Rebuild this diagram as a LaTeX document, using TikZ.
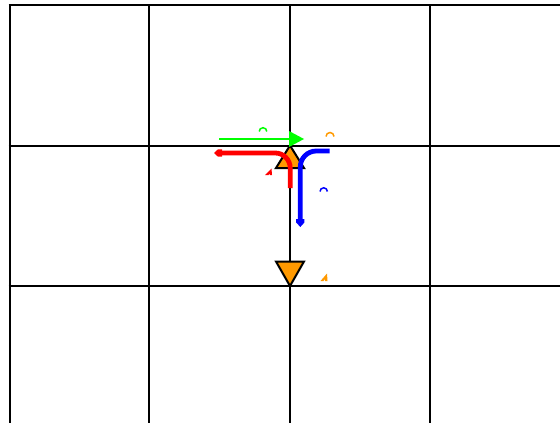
\documentclass[tikz,border=0pt]{standalone}
\definecolor{myorange}{RGB}{255,153,0}
\tikzset{
  gridline/.style={black,line width=2pt,line cap=butt},
  tri/.style={fill=myorange,draw=black,line width=2pt,line join=miter},
  redpath/.style={red,line width=4.8pt},
  bluepath/.style={blue,line width=4.8pt},
  arcmark/.style={line width=1.5pt}
}
\begin{document}
\begin{tikzpicture}[x=1pt,y=-1pt]
\useasboundingbox (0,0) rectangle (560,423);
% grid
\foreach \x in {9.5,149.3,290,430} \draw[gridline] (\x,4) -- (\x,423);
\foreach \y in {5,145.7,286} \draw[gridline] (8.5,\y) -- (560,\y);
% triangles
\draw[tri] (290,145.5) -- (304,168) -- (276,168) -- cycle;
\draw[tri] (276,261.5) -- (304,261.5) -- (290,286) -- cycle;
% red
\draw[redpath] (290.2,188) -- (290.2,168) arc[start angle=0,end angle=-90,radius=15] -- (220,153);
\fill[red] (214,153) -- (218,149.3) -- (222,149.3) -- (222,156.7) -- (218,156.7) -- cycle;
% blue
\draw[bluepath] (329.5,151) -- (316.3,151) arc[start angle=-90,end angle=-180,radius=16] -- (300.3,220);
\fill[blue] (300.3,227) -- (296.2,222.5) -- (296.2,219) -- (304.4,219) -- (304.4,222.5) -- cycle;
% green
\draw[green,line width=2pt] (219,139) -- (292,139);
\fill[green] (304,139) -- (289,131) -- (289,147) -- cycle;
% small marks
\draw[arcmark,green] (259.2,131.5) arc[start angle=180,end angle=360,radius=3.8];
\draw[arcmark,myorange] (326,136.5) arc[start angle=180,end angle=360,radius=4];
\draw[arcmark,blue] (320,191.5) arc[start angle=180,end angle=360,radius=3.7];
\fill[red] (265,175) -- (271.5,168.5) -- (272,175) -- (269.8,175) -- (269.7,173.5) -- (268.5,175) -- cycle;
\fill[myorange] (320.5,281) -- (327,273.5) -- (327.5,281) -- (325,281) -- (324.8,279) -- (323.5,281) -- cycle;
\end{tikzpicture}
\end{document}
